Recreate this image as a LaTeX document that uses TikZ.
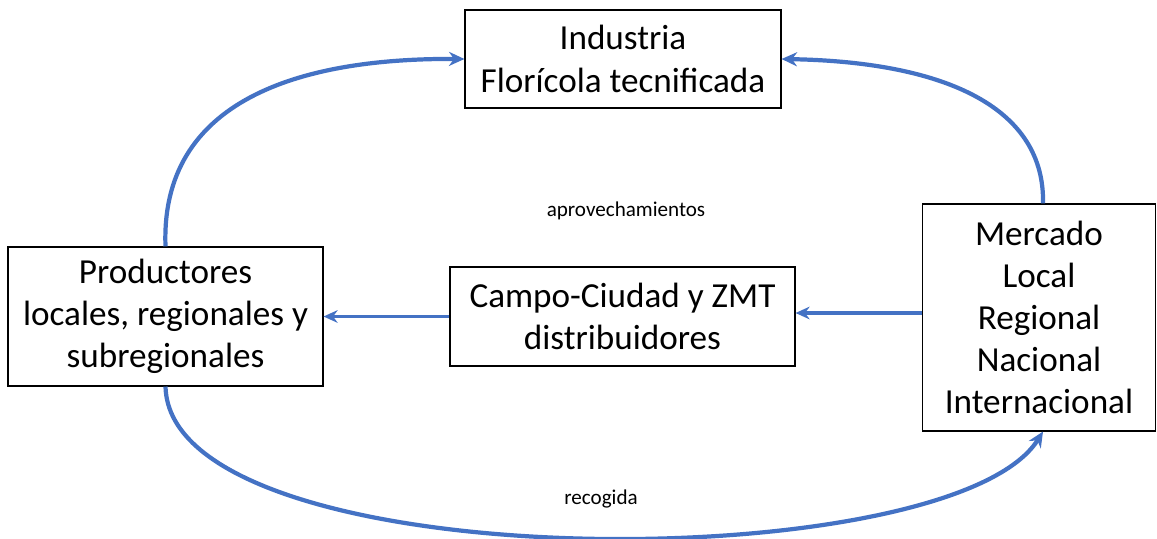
\documentclass[tikz,border=0pt]{standalone}
\usepackage{fontspec}
\setmainfont{Carlito}
\usetikzlibrary{arrows.meta}
\definecolor{azul}{RGB}{68,114,196}
\tikzset{
  caja/.style={draw, thick, align=center, font=\fontsize{25}{30}\selectfont, inner sep=0pt},
  flecha/.style={azul, line width=2.4pt, -{Stealth[length=10pt,width=9pt]}},
  curva/.style={azul, line width=3pt, -{Stealth[length=11pt,width=10pt]}},
  etiqueta/.style={font=\fontsize{15}{17}\selectfont}
}

\begin{document}
\begin{tikzpicture}[x=0.025cm, y=-0.025cm]
  \useasboundingbox (0,0) rectangle (1157,539);

  % cajas
  \node[caja, minimum width=316*0.025cm, minimum height=98*0.025cm] (ind) at (623,59)
    {Industria\\Florícola tecnificada};
  \node[caja, minimum width=315*0.025cm, minimum height=139*0.025cm] (prod) at (165.5,316.5)
    {Productores\\locales, regionales y\\subregionales};
  \node[caja, minimum width=345*0.025cm, minimum height=99*0.025cm] (campo) at (622.5,316.5)
    {Campo-Ciudad y ZMT\\distribuidores};
  \node[caja, minimum width=233*0.025cm, minimum height=227*0.025cm] (merc) at (1039,317.5)
    {Mercado\\Local\\Regional\\Nacional\\Internacional};

  % flechas rectas
  \draw[flecha] (merc.west |- 0,313) -- (campo.east |- 0,313);
  \draw[flecha] (campo.west) -- (prod.east);

  % flechas curvas
  \draw[curva] (prod.north) .. controls (160,100) and (300,58) .. (ind.west);
  \draw[curva] ([xshift=4*0.025cm]merc.north) .. controls (1045,110) and (950,62) .. (ind.east);
  \draw[curva] (prod.south) .. controls (170,580) and (950,580) .. ([xshift=4*0.025cm]merc.south);

  % textos
  \node[etiqueta] (aprov) at (626,211) {aprovechamientos};
  \node[etiqueta] (recog) at (601,499) {recogida};
\end{tikzpicture}
\end{document}
